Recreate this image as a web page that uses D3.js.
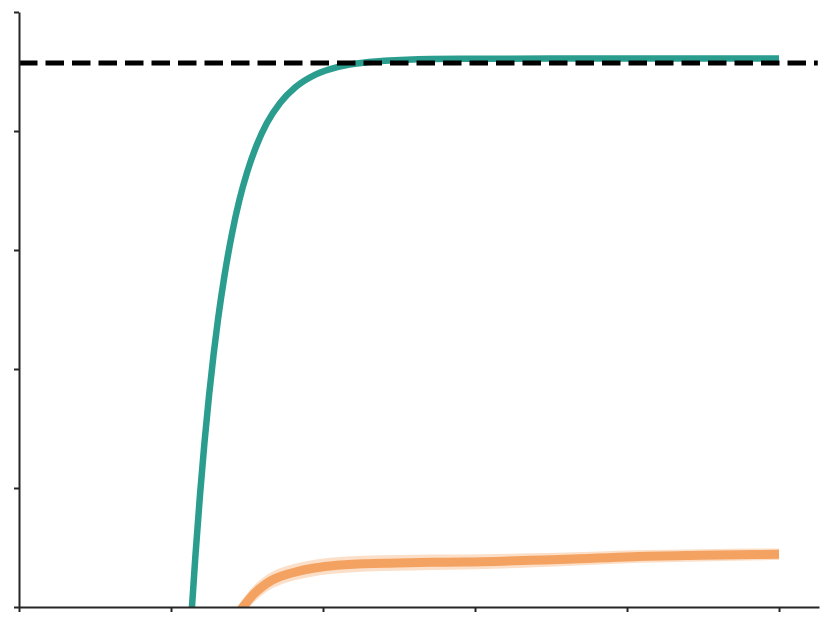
<!DOCTYPE html>
<html>
<head>
<meta charset="utf-8">
<script src="https://cdn.jsdelivr.net/npm/d3@7"></script>
<style>
  body { margin: 0; background: #fff; }
  .axis path, .axis line { stroke: #262626; stroke-width: 2; }
</style>
</head>
<body>
<div id="chart"></div>
<script>
// x ticks / y ticks (no labels shown)
var xTicks = [0, 1, 2, 3, 4, 5];
var yTicks = [0, 1, 2, 3, 4, 5];

// dashed reference level
var refLevel = 4.571;

// teal curve
var tealX = [1.115, 1.138, 1.16, 1.19, 1.22, 1.25, 1.28, 1.31, 1.35, 1.40, 1.45, 1.50, 1.56, 1.63, 1.72, 1.82, 1.95, 2.10, 2.30, 2.55, 2.90, 3.50, 5.0];
var tealY = [-0.48, 0.0, 0.42, 0.93, 1.38, 1.775, 2.12, 2.425, 2.77, 3.13, 3.42, 3.65, 3.87, 4.065, 4.24, 4.37, 4.474, 4.539, 4.579, 4.599, 4.607, 4.609, 4.609];

// orange curve with its band
var orangeX = [1.42, 1.474, 1.54, 1.605, 1.66, 1.717, 1.829, 1.934, 2.046, 2.263, 2.487, 2.704, 2.921, 3.362, 3.605, 4.039, 4.48, 5.0];
var orangeY = [-0.10, 0.0, 0.103, 0.176, 0.223, 0.255, 0.298, 0.326, 0.345, 0.364, 0.37, 0.376, 0.378, 0.392, 0.401, 0.423, 0.434, 0.443];
var orangeLo = [-0.17, -0.07, 0.033, 0.106, 0.153, 0.185, 0.228, 0.257, 0.277, 0.297, 0.304, 0.311, 0.315, 0.332, 0.344, 0.369, 0.383, 0.394];
var orangeHi = [-0.03, 0.07, 0.173, 0.246, 0.293, 0.325, 0.368, 0.395, 0.413, 0.431, 0.436, 0.441, 0.441, 0.452, 0.458, 0.477, 0.485, 0.492];

var width = 831, height = 627;

var svg = d3.select("#chart").append("svg")
    .attr("width", width)
    .attr("height", height);

var x = d3.scaleLinear().domain([0, 5.263]).range([19, 819]);
var y = d3.scaleLinear().domain([0, 5]).range([607, 12]);

svg.append("clipPath").attr("id", "plotClip")
    .append("rect")
    .attr("x", x(0)).attr("y", 0)
    .attr("width", x(5.263) - x(0)).attr("height", y(0));

var plot = svg.append("g").attr("clip-path", "url(#plotClip)");

// band
var band = d3.area()
    .x(function(d, i) { return x(orangeX[i]); })
    .y0(function(d, i) { return y(orangeLo[i]); })
    .y1(function(d, i) { return y(orangeHi[i]); })
    .curve(d3.curveMonotoneX);

plot.append("path")
    .attr("d", band(orangeX))
    .attr("fill", "#f4a261")
    .attr("opacity", 0.35);

var orangeLine = d3.line()
    .x(function(d, i) { return x(orangeX[i]); })
    .y(function(d, i) { return y(orangeY[i]); })
    .curve(d3.curveMonotoneX);

plot.append("path")
    .attr("d", orangeLine(orangeX))
    .attr("fill", "none")
    .attr("stroke", "#f4a261")
    .attr("stroke-width", 9);

var tealLine = d3.line()
    .x(function(d, i) { return x(tealX[i]); })
    .y(function(d, i) { return y(tealY[i]); })
    .curve(d3.curveMonotoneX);

plot.append("path")
    .attr("d", tealLine(tealX))
    .attr("fill", "none")
    .attr("stroke", "#2a9d8f")
    .attr("stroke-width", 6.5);

// dashed reference line
svg.append("line")
    .attr("x1", x(0)).attr("x2", x(5.255))
    .attr("y1", y(refLevel)).attr("y2", y(refLevel))
    .attr("stroke", "#000")
    .attr("stroke-width", 5)
    .attr("stroke-dasharray", "18.5,8");

// axes
svg.append("g")
    .attr("class", "axis")
    .attr("transform", "translate(0," + y(0) + ")")
    .call(d3.axisBottom(x).tickValues(xTicks).tickFormat("").tickSize(5).tickSizeOuter(0));

svg.append("g")
    .attr("class", "axis")
    .attr("transform", "translate(" + x(0) + ",0)")
    .call(d3.axisLeft(y).tickValues(yTicks).tickFormat("").tickSize(5).tickSizeOuter(0));
</script>
</body>
</html>
